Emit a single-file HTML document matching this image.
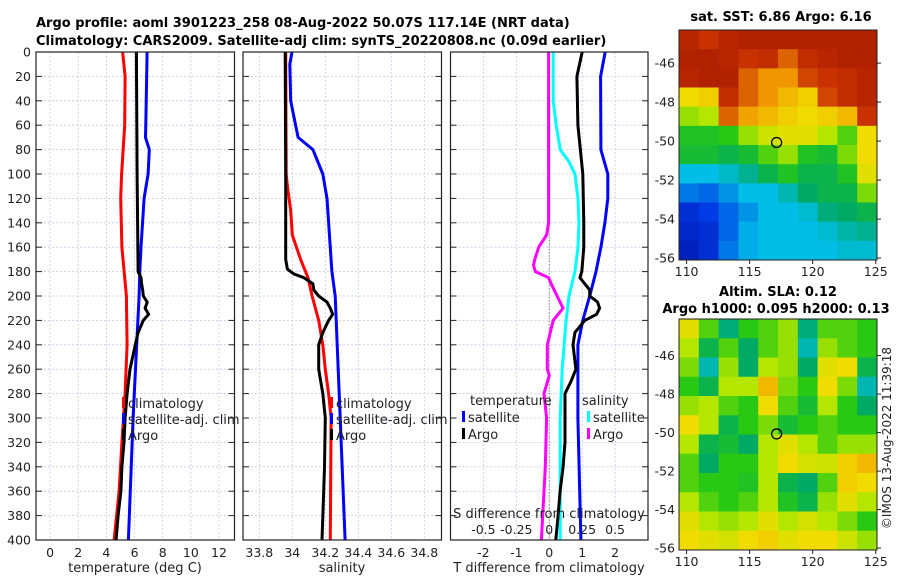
<!DOCTYPE html>
<html><head><meta charset="utf-8">
<style>
body{margin:0;background:#fff;}
svg{display:block;font-family:"DejaVu Sans","Liberation Sans",sans-serif;}
</style></head>
<body>
<svg id="fig" width="900" height="580" viewBox="0 0 900 580">
<text x="36" y="27" font-size="13" font-weight="bold">Argo profile: aoml 3901223_258 08-Aug-2022 50.07S 117.14E (NRT data)</text>
<text x="36" y="45" font-size="13" font-weight="bold">Climatology: CARS2009. Satellite-adj clim: synTS_20220808.nc (0.09d earlier)</text>
<g id="p1"></g>
<g id="p2"></g>
<g id="p3"></g>
<g id="m1"></g>
<g id="m2"></g>
<text x="781" y="21" font-size="13" font-weight="bold" text-anchor="middle">sat. SST: 6.86 Argo: 6.16</text>
<text x="778" y="296" font-size="13" font-weight="bold" text-anchor="middle">Altim. SLA: 0.12</text>
<text x="776" y="313" font-size="13" font-weight="bold" text-anchor="middle">Argo h1000: 0.095 h2000: 0.13</text>
<text transform="translate(891,438) rotate(-90)" font-size="12" text-anchor="middle" fill="#222">©IMOS 13-Aug-2022 11:39:18</text>
</svg>
<script>
// ---------- data ----------
const depthTicks=[0,20,40,60,80,100,120,140,160,180,200,220,240,260,280,300,320,340,360,380,400];
const tTicks=[0,2,4,6,8,10,12];
const sTicks=[33.8,34,34.2,34.4,34.6,34.8];
const sTickLabels=["33.8","34","34.2","34.4","34.6","34.8"];
const dTicks=[-2,-1,0,1,2];
const sdTicks=[-0.5,-0.25,0,0.25,0.5];
const sdTickLabels=["-0.5","-0.25","0","0.25","0.5"];

const tClimDepth=[0,20,60,100,120,160,200,240,280,320,360,400];
const tClim=[5.15,5.33,5.3,5.08,5.02,5.1,5.42,5.47,5.33,5.1,4.9,4.55];
const tSatDepth=[0,60,70,80,100,120,160,180,200,300,400];
const tSat=[6.89,6.8,6.78,7.05,6.96,6.68,6.46,6.37,6.32,5.9,5.56];
const tArgoDepth=[0,100,180,185,190,195,200,205,210,215,220,230,240,260,280,300,320,340,360,380,400];
const tArgo=[6.13,6.18,6.25,6.46,6.5,6.58,6.62,6.9,6.75,7.0,6.62,6.25,6.05,5.68,5.47,5.33,5.25,5.1,5.03,4.83,4.69];

const sClimDepth=[0,100,110,130,150,170,185,200,220,240,260,280,300,400];
const sClim=[33.96,33.963,33.97,33.99,34.0,34.05,34.095,34.12,34.16,34.185,34.2,34.22,34.235,34.23];
const sSatDepth=[0,10,40,60,70,80,100,120,180,200,300,400];
const sSat=[33.998,33.985,33.99,34.02,34.035,34.125,34.185,34.21,34.24,34.26,34.29,34.32];
const sArgoDepth=[0,100,170,178,182,185,190,195,200,205,210,215,220,230,240,260,280,300,340,360,400];
const sArgo=[33.957,33.96,33.96,33.97,34.01,34.07,34.125,34.13,34.16,34.21,34.23,34.245,34.22,34.185,34.16,34.16,34.185,34.2,34.195,34.19,34.18];

const dtSatDepth=[0,20,80,100,120,140,160,180,200,220,240,300,400];
const dtSat=[1.7,1.56,1.57,1.78,1.78,1.69,1.57,1.42,1.23,1.02,0.87,0.87,0.96];
const dtArgoDepth=[0,20,60,100,140,160,180,185,190,195,200,205,210,215,220,230,240,260,270,280,300,320,340,360,380,400];
const dtArgo=[1.0,0.84,0.87,1.02,1.05,1.05,0.99,0.93,1.08,1.23,1.23,1.47,1.53,1.44,1.08,0.78,0.72,0.81,0.66,0.48,0.48,0.48,0.42,0.33,0.27,0.2];
const dsSatDepth=[0,40,60,80,90,100,120,140,160,180,200,220,260,300,400];
const dsSat=[0.03,0.03,0.053,0.083,0.15,0.195,0.218,0.226,0.218,0.195,0.15,0.128,0.098,0.083,0.083];
const dsArgoDepth=[0,140,150,160,170,175,180,185,190,200,210,220,240,260,265,280,300,340,400];
const dsArgo=[-0.005,-0.005,-0.02,-0.08,-0.11,-0.12,-0.105,-0.005,0.015,0.06,0.105,0.03,-0.015,-0.015,0,-0.04,-0.02,-0.03,-0.06];

const sstGrid=[
[.95,.9,.95,.97,.97,.97,.97,.97,.97,.97],
[.97,.97,.95,.9,.92,.85,.92,.95,.97,.97],
[.95,.97,.97,.85,.8,.8,.88,.9,.92,.95],
[.7,.72,.92,.85,.8,.75,.72,.88,.92,.95],
[.6,.62,.85,.78,.75,.72,.7,.72,.75,.9],
[.5,.5,.52,.6,.65,.68,.68,.62,.55,.7],
[.48,.48,.45,.48,.55,.6,.5,.48,.58,.7],
[.3,.3,.33,.38,.45,.5,.45,.45,.5,.68],
[.22,.2,.25,.3,.3,.35,.42,.45,.45,.58],
[.12,.15,.2,.25,.3,.3,.32,.4,.42,.45],
[.1,.12,.2,.28,.3,.3,.3,.32,.36,.38],
[.08,.12,.22,.28,.3,.3,.3,.3,.32,.32]];
const slaGrid=[
[.68,.55,.4,.52,.55,.6,.4,.55,.55,.52],
[.62,.45,.55,.42,.55,.6,.35,.6,.55,.52],
[.58,.35,.6,.42,.62,.6,.42,.68,.7,.45],
[.52,.45,.62,.62,.75,.58,.52,.7,.58,.35],
[.6,.62,.55,.52,.7,.55,.48,.62,.52,.42],
[.7,.62,.45,.52,.58,.48,.52,.55,.52,.52],
[.62,.45,.48,.42,.62,.68,.62,.55,.6,.6],
[.55,.42,.52,.52,.62,.7,.66,.65,.72,.75],
[.55,.52,.52,.5,.62,.45,.42,.55,.72,.7],
[.62,.55,.52,.55,.62,.5,.45,.6,.68,.62],
[.68,.62,.6,.62,.68,.62,.66,.62,.58,.52],
[.7,.68,.66,.7,.72,.68,.7,.7,.65,.6]];
const lonTicks=[110,115,120,125];
const latTicks=[-46,-48,-50,-52,-54,-56];
const argoPos=[117.14,-50.07];

// ---------- drawing ----------
const NS='http://www.w3.org/2000/svg';
function mk(parent,tag,attrs){const e=document.createElementNS(NS,tag);for(const k in attrs)e.setAttribute(k,attrs[k]);parent.appendChild(e);return e;}
const Y0=52,Y1=540;
const yD=d=>Y0+(Y1-Y0)*d/400;
function lin(d0,d1,r0,r1){return v=>r0+(v-d0)*(r1-r0)/(d1-d0);}

function panelFrame(g,x0,x1,xs,xticks,labels,showY){
  xticks.forEach(t=>{const l=mk(g,'line',{x1:xs(t),x2:xs(t),y1:Y0,y2:Y1,stroke:'#c4c8e8','stroke-width':0.8,'stroke-dasharray':'2,2'});
    });
  depthTicks.forEach(d=>{const l=mk(g,'line',{x1:x0,x2:x1,y1:yD(d),y2:yD(d),stroke:'#c4c8e8','stroke-width':0.8,'stroke-dasharray':'2,2'});
    
    mk(g,'line',{x1:x0,x2:x0+6,y1:yD(d),y2:yD(d),stroke:'#222'});
    mk(g,'line',{x1:x1-6,x2:x1,y1:yD(d),y2:yD(d),stroke:'#222'});
    if(showY){const t=mk(g,'text',{x:x0-5,y:yD(d)+4.5,'font-size':12.5,'text-anchor':'end',fill:'#222'});t.textContent=d;
      }
  });
  if(labels){xticks.forEach((t,i)=>{const tx=mk(g,'text',{x:xs(t),y:557,'font-size':12.5,'text-anchor':'middle',fill:'#222'});tx.textContent=labels[i];
    });}
}
function border(g,x0,x1){const r=mk(g,'rect',{x:x0,y:Y0,width:x1-x0,height:Y1-Y0,fill:'none',stroke:'#222','stroke-width':1.2});
  }
function series(g,xs,vals,depths,color,name){
  const pts=vals.map((v,i)=>xs(v).toFixed(1)+','+yD(depths[i]).toFixed(1)).join(' ');
  const p=mk(g,'polyline',{points:pts,fill:'none',stroke:color,'stroke-width':3,'stroke-linejoin':'round'});
  
}
function label(g,x,y,txt,name,anchor){const t=mk(g,'text',{x:x,y:y,'font-size':13,'text-anchor':anchor||'start',fill:'#222'});t.textContent=txt;
  }
function legendItem(g,x,y,color,txt){const r=mk(g,'rect',{x:x,y:y-11,width:3,height:11,fill:color});
  
  const t=mk(g,'text',{x:x+6,y:y,'font-size':13,fill:'#222'});t.textContent=txt;
  }

// Panel 1
const p1=document.getElementById('p1');const xT=lin(-1,13.1,36,234.5);
panelFrame(p1,36,234.5,xT,tTicks,tTicks.map(String),true);
series(p1,xT,tClim,tClimDepth,'#ff0000','temp-climatology-line');
series(p1,xT,tSat,tSatDepth,'#0000ff','temp-satellite-line');
series(p1,xT,tArgo,tArgoDepth,'#000000','temp-argo-line');
border(p1,36,234.5);
legendItem(p1,122,408,'#ff0000','climatology');legendItem(p1,122,424,'#0000ff','satellite-adj. clim');legendItem(p1,122,440,'#000','Argo');
label(p1,135,572,'temperature (deg C)','x-axis-title-temperature','middle');

// Panel 2
const p2=document.getElementById('p2');const xS=lin(33.8,34.8,259.3,424.3);
panelFrame(p2,243,441.5,xS,sTicks,sTickLabels,false);
series(p2,xS,sClim,sClimDepth,'#ff0000','sal-climatology-line');
series(p2,xS,sSat,sSatDepth,'#0000ff','sal-satellite-line');
series(p2,xS,sArgo,sArgoDepth,'#000000','sal-argo-line');
border(p2,243,441.5);
legendItem(p2,330,408,'#ff0000','climatology');legendItem(p2,330,424,'#0000ff','satellite-adj. clim');legendItem(p2,330,440,'#000','Argo');
label(p2,342,572,'salinity','x-axis-title-salinity','middle');

// Panel 3
const p3=document.getElementById('p3');const xDT=lin(-3,3,450.5,648);const xDS=v=>xDT(v*4);
panelFrame(p3,450.5,648,xDT,dTicks,dTicks.map(String),false);
const z=mk(p3,'line',{x1:xDT(0),x2:xDT(0),y1:yD(120),y2:Y1,stroke:'#555','stroke-width':1,'stroke-dasharray':'1,2'});

series(p3,xDS,dsArgo,dsArgoDepth,'#ff00ff','sdiff-argo-line');
series(p3,xDS,dsSat,dsSatDepth,'#00ffff','sdiff-satellite-line');
series(p3,xDT,dtSat,dtSatDepth,'#0000ff','tdiff-satellite-line');
series(p3,xDT,dtArgo,dtArgoDepth,'#000000','tdiff-argo-line');
border(p3,450.5,648);
label(p3,470,405,'temperature','legend-title-temperature');label(p3,582,405,'salinity','legend-title-salinity');
legendItem(p3,462,422,'#0000ff','satellite');legendItem(p3,462,439,'#000','Argo');
legendItem(p3,587,422,'#00ffff','satellite');legendItem(p3,587,439,'#ff00ff','Argo');
label(p3,549,518,'S difference from climatology','s-axis-title','middle');
sdTicks.forEach((s,i)=>{const t=mk(p3,'text',{x:xDS(s),y:534,'font-size':12.5,'text-anchor':'middle',fill:'#222'});t.textContent=sdTickLabels[i];
  });
label(p3,549,572,'T difference from climatology','x-axis-title-tdiff','middle');

// custom colormap approximating the reference palette
const cmStops=[[0,[0,0,140]],[0.15,[0,60,230]],[0.3,[0,190,230]],[0.42,[0,170,100]],[0.52,[40,200,20]],[0.62,[180,230,0]],[0.7,[240,220,0]],[0.8,[240,150,0]],[0.9,[200,50,0]],[1,[165,25,0]]];
function cmap(v){v=Math.max(0,Math.min(1,v));for(let i=1;i<cmStops.length;i++){if(v<=cmStops[i][0]){const a=cmStops[i-1],b=cmStops[i],f=(v-a[0])/(b[0]-a[0]);
  return 'rgb('+a[1].map((c,k)=>Math.round(c+(b[1][k]-c)*f)).join(',')+')';}}return 'rgb(165,25,0)';}
function drawMap(g,X0,X1,MY0,MY1,grid,lonR,latR,name){
  const rows=grid.length,cols=grid[0].length,cw=(X1-X0)/cols,ch=(MY1-MY0)/rows;
  grid.forEach((row,i)=>row.forEach((v,j)=>{const r=mk(g,'rect',{x:X0+j*cw,y:MY0+i*ch,width:cw+0.5,height:ch+0.5,fill:cmap(v)});
    }));
  const xl=lin(lonR[0],lonR[1],X0,X1),yl=lin(latR[0],latR[1],MY0,MY1);
  mk(g,'rect',{x:X0,y:MY0,width:X1-X0,height:MY1-MY0,fill:'none',stroke:'#222'});
  lonTicks.forEach(l=>{mk(g,'line',{x1:xl(l),x2:xl(l),y1:MY1,y2:MY1+4,stroke:'#222'});
    const t=mk(g,'text',{x:xl(l),y:MY1+16,'font-size':12.5,'text-anchor':'middle',fill:'#222'});t.textContent=l;
    });
  latTicks.forEach(l=>{mk(g,'line',{x1:X1,x2:X1+4,y1:yl(l),y2:yl(l),stroke:'#222'});
    const t=mk(g,'text',{x:X0-4,y:yl(l)+4.5,'font-size':12.5,'text-anchor':'end',fill:'#222'});t.textContent=l;
    });
  const c=mk(g,'circle',{cx:xl(argoPos[0]),cy:yl(argoPos[1]),r:5,fill:'none',stroke:'#000','stroke-width':1.3});
  
}
drawMap(document.getElementById('m1'),679,877,30,260,sstGrid,[109.4,125.1],[-44.3,-56.1],'sst');
drawMap(document.getElementById('m2'),679,877,319,550,slaGrid,[109.4,125.1],[-44.1,-56.1],'sla');
</script>
</body></html>
